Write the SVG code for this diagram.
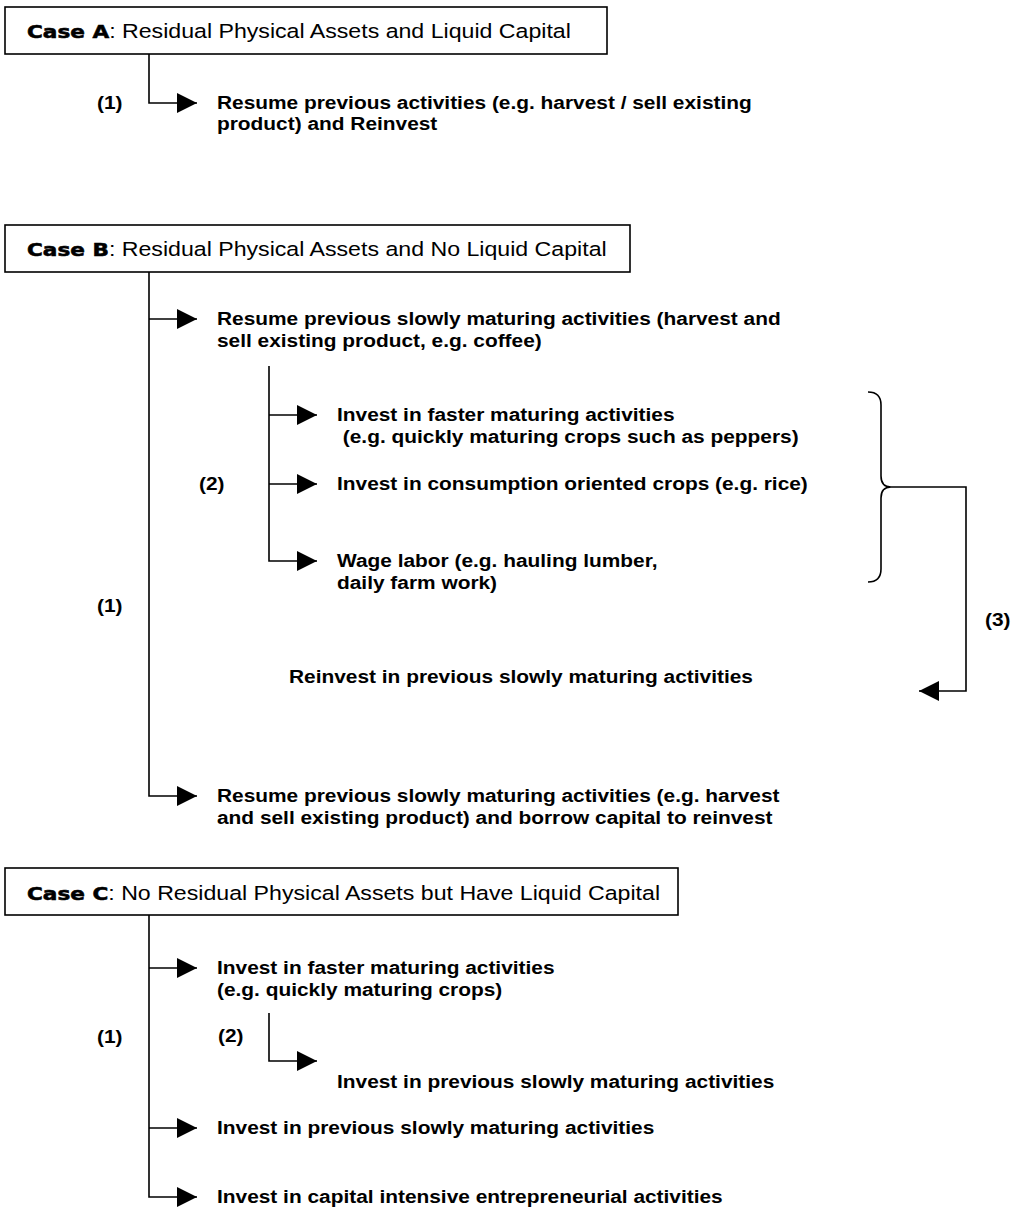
<svg xmlns="http://www.w3.org/2000/svg" width="1013" height="1218" viewBox="0 0 1013 1218">
<defs>
<marker id="ah" viewBox="0 0 20 20" refX="20" refY="10" markerWidth="20" markerHeight="20" markerUnits="userSpaceOnUse" orient="auto">
<path d="M0,0 L20,10 L0,20 Z" fill="#000"/>
</marker>
</defs>
<style>
.box{fill:#fff;stroke:#000;stroke-width:1.6}
.ln{fill:none;stroke:#000;stroke-width:1.6}
.t{font-family:"Liberation Sans",Arial,sans-serif;font-weight:bold;font-size:18px;fill:#000}
.h{font-family:"Liberation Sans",Arial,sans-serif;font-size:19.3px;fill:#000}
.k{font-family:"DejaVu Sans",sans-serif;font-weight:bold;font-size:18px;stroke:#000;stroke-width:0.55}
</style>
<rect width="1013" height="1218" fill="#fff"/>

<g id="caseA">
<rect class="box" x="5" y="7" width="602" height="47"/>
<text class="h" transform="translate(27,38) scale(1.2,1)"><tspan class="k">Case A</tspan>: Residual Physical Assets and Liquid Capital</text>
</g>
<g id="a1">
<text class="t" transform="translate(217,109) scale(1.16,1)"><tspan x="0" y="0">Resume previous activities (e.g. harvest / sell existing</tspan><tspan x="0" y="21">product) and Reinvest</tspan></text>
</g>

<g id="caseB">
<rect class="box" x="5" y="225" width="625" height="47"/>
<text class="h" transform="translate(27,256) scale(1.2,1)"><tspan class="k">Case B</tspan>: Residual Physical Assets and No Liquid Capital</text>
</g>
<g id="b1">
<text class="t" transform="translate(217,325) scale(1.16,1)"><tspan x="0" y="0">Resume previous slowly maturing activities (harvest and</tspan><tspan x="0" y="22.5">sell existing product, e.g. coffee)</tspan></text>
</g>
<g id="b2">
<text class="t" transform="translate(337,421) scale(1.16,1)"><tspan x="0" y="0">Invest in faster maturing activities</tspan><tspan x="0" y="22.5" xml:space="preserve"> (e.g. quickly maturing crops such as peppers)</tspan></text>
</g>
<g id="b3">
<text class="t" transform="translate(337,490) scale(1.16,1)">Invest in consumption oriented crops (e.g. rice)</text>
</g>
<g id="b4">
<text class="t" transform="translate(337,567) scale(1.16,1)"><tspan x="0" y="0">Wage labor (e.g. hauling lumber,</tspan><tspan x="0" y="22.5">daily farm work)</tspan></text>
</g>
<g id="b5">
<text class="t" transform="translate(289,683) scale(1.16,1)">Reinvest in previous slowly maturing activities</text>
</g>
<g id="b6">
<text class="t" transform="translate(217,802) scale(1.16,1)"><tspan x="0" y="0">Resume previous slowly maturing activities (e.g. harvest</tspan><tspan x="0" y="22.5">and sell existing product) and borrow capital to reinvest</tspan></text>
</g>

<g id="caseC">
<rect class="box" x="5" y="868" width="673" height="47"/>
<text class="h" transform="translate(27,900) scale(1.2,1)"><tspan class="k">Case C</tspan>: No Residual Physical Assets but Have Liquid Capital</text>
</g>
<g id="c1">
<text class="t" transform="translate(217,974) scale(1.16,1)"><tspan x="0" y="0">Invest in faster maturing activities</tspan><tspan x="0" y="22.5">(e.g. quickly maturing crops)</tspan></text>
</g>
<g id="c2">
<text class="t" transform="translate(337,1088) scale(1.16,1)">Invest in previous slowly maturing activities</text>
</g>
<g id="c3">
<text class="t" transform="translate(217,1134) scale(1.16,1)">Invest in previous slowly maturing activities</text>
</g>
<g id="c4">
<text class="t" transform="translate(217,1203) scale(1.16,1)">Invest in capital intensive entrepreneurial activities</text>
</g>

<g id="labels">
<text class="t" transform="translate(97,109) scale(1.16,1)">(1)</text>
<text class="t" transform="translate(97,612) scale(1.16,1)">(1)</text>
<text class="t" transform="translate(199,490) scale(1.16,1)">(2)</text>
<text class="t" transform="translate(985,626) scale(1.16,1)">(3)</text>
<text class="t" transform="translate(97,1043) scale(1.16,1)">(1)</text>
<text class="t" transform="translate(218,1042) scale(1.16,1)">(2)</text>
</g>

<g id="connectors">
<path class="ln" d="M149,54 V103 H197" marker-end="url(#ah)"/>
<path class="ln" d="M149,272 V796 H197" marker-end="url(#ah)"/>
<path class="ln" d="M149,319 H197" marker-end="url(#ah)"/>
<path class="ln" d="M269,366 V561 H317" marker-end="url(#ah)"/>
<path class="ln" d="M269,415 H317" marker-end="url(#ah)"/>
<path class="ln" d="M269,484 H317" marker-end="url(#ah)"/>
<path class="ln" d="M868,392 Q881,392 881,405 L881,476 Q881,487 891,487 Q881,487 881,498 L881,569 Q881,582 868,582"/>
<path class="ln" d="M891,487 H966 V691 H919" marker-end="url(#ah)"/>
<path class="ln" d="M149,915 V1197 H197" marker-end="url(#ah)"/>
<path class="ln" d="M149,968 H197" marker-end="url(#ah)"/>
<path class="ln" d="M149,1128 H197" marker-end="url(#ah)"/>
<path class="ln" d="M269,1013 V1061 H317" marker-end="url(#ah)"/>
</g>
</svg>
